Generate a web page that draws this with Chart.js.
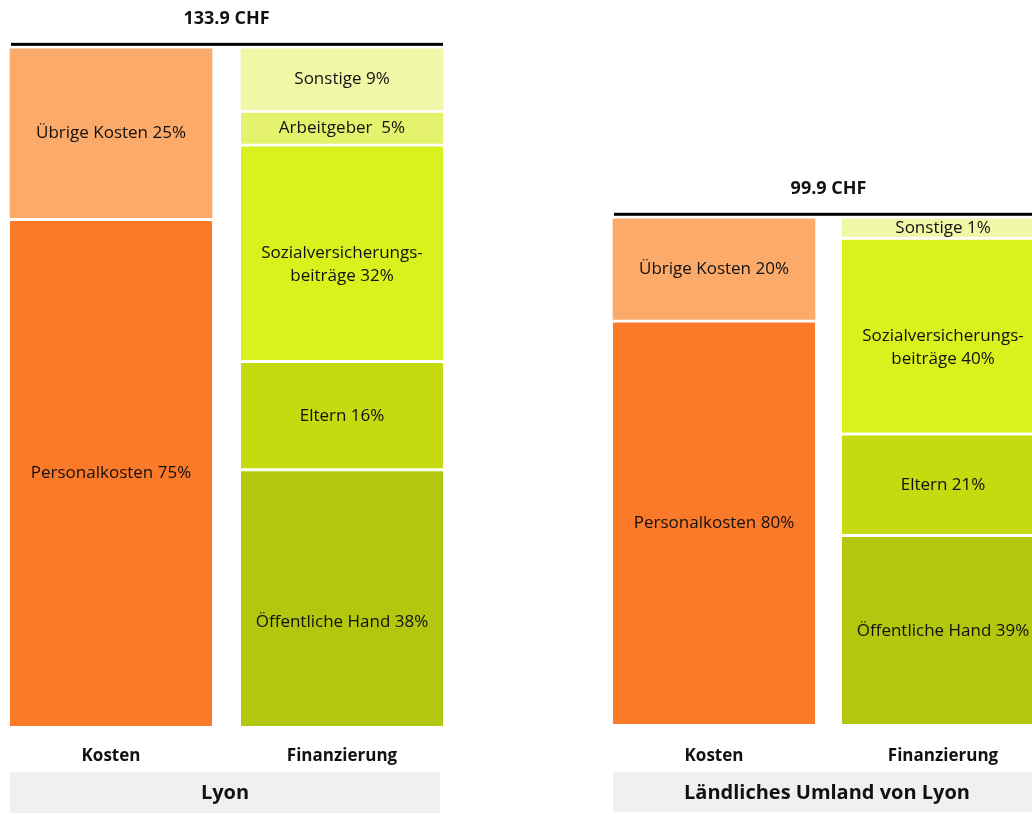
<!DOCTYPE html>
<html>
<head>
<meta charset="utf-8">
<script src="https://cdn.jsdelivr.net/npm/chart.js@4.4.1/dist/chart.umd.min.js"></script>
<style>
html, body { margin: 0; padding: 0; background: #fff; overflow: hidden; width: 1032px; height: 814px; position: relative; }
canvas { position: absolute; }
#lyon { left: -10px; top: 0; }
#land { left: 590px; top: -2px; }
</style>
</head>
<body>
<canvas id="lyon" width="480" height="814"></canvas>
<canvas id="land" width="480" height="814"></canvas>
<script>
const columns = ['Kosten', 'Finanzierung'];
const regions = ['Lyon', 'Ländliches Umland von Lyon'];
const totals = ['133.9 CHF', '99.9 CHF'];

// Kosten, von unten nach oben (Werte in CHF)
const kostenNames = ['Personalkosten', 'Übrige Kosten'];
const lyonKostenPct = [75, 25];
const lyonKostenChf = [100.4, 33.5];
const landKostenPct = [80, 20];
const landKostenChf = [79.9, 20.0];

// Finanzierung, von unten nach oben (Werte in CHF)
// leere Zeilen wie im Original-Label
const lyonFinNames = ['\n\nÖffentliche Hand', 'Eltern', '\nSozialversicherungs-\nbeiträge', 'Arbeitgeber ', 'Sonstige'];
const lyonFinPct = [38, 16, 32, 5, 9];
const lyonFinChf = [50.9, 21.4, 42.8, 6.7, 12.1];
const landFinNames = ['Öffentliche Hand', 'Eltern', '\nSozialversicherungs-\nbeiträge', 'Sonstige'];
const landFinPct = [39, 21, 40, 1];
const landFinChf = [37.5, 20.1, 38.7, 3.6];

const kostenColors = ['#FB7A29', '#FBAA6A'];
const finColors = {
    'Öffentliche Hand': '#B3C70F',
    'Eltern': '#C5DA0F',
    'Sozialversicherungs-beiträge': '#D9F21D',
    'Arbeitgeber': '#E4F26E',
    'Sonstige': '#F0F8A8'
};

const FONT = '"Open Sans", "DejaVu Sans", sans-serif';

const decor = {
    id: 'decor',
    afterDatasetsDraw(chart, args, opts) {
        const ctx = chart.ctx;
        const sets = chart.data.datasets;
        ctx.save();
        ctx.textAlign = 'center';
        ctx.textBaseline = 'middle';
        ctx.fillStyle = '#111';
        ctx.font = '17px ' + FONT;
        sets.forEach((ds, i) => {
            chart.getDatasetMeta(i).data.forEach((bar, j) => {
                if (ds.data[j] == null) return;
                const top = bar.y + (ds.isTop ? 0 : 3);
                const mid = (top + bar.base) / 2;
                const lines = ds.text;
                const start = mid - (lines.length - 1) * 23 / 2;
                lines.forEach((line, k) => ctx.fillText(line, bar.x, start + k * 23));
            });
        });

        // Summe oben + schwarze Linie
        const first = chart.getDatasetMeta(0).data[0];
        const last = chart.getDatasetMeta(sets.length - 1).data[1];
        const left = first.x - first.width / 2;
        const right = last.x + last.width / 2;
        const topPx = chart.scales.y.getPixelForValue(opts.sum);
        ctx.fillStyle = '#000';
        ctx.fillRect(left + 1, topPx - 6, right - left - 1, 3);
        ctx.font = 'bold 18px ' + FONT;
        ctx.fillStyle = '#111';
        ctx.fillText(opts.total, (left + right) / 2, topPx - 30);

        // graues Band mit Regionsname
        const bandTop = chart.chartArea.bottom + opts.bandGap;
        ctx.fillStyle = '#F0F0F0';
        ctx.fillRect(left, bandTop, right - left - 3, 41);
        ctx.fillStyle = '#111';
        ctx.font = 'bold 20px ' + FONT;
        ctx.fillText(opts.region, (left + right - 3) / 2, bandTop + 21);
        ctx.restore();
    }
};

function buildSets(kPct, kChf, fNames, fPct, fChf) {
    const sets = [];
    kChf.forEach((v, i) => sets.push({
        data: [v, null],
        backgroundColor: kostenColors[i],
        text: [kostenNames[i] + ' ' + kPct[i] + '%'],
        isTop: i === kChf.length - 1
    }));
    fChf.forEach((v, i) => {
        const lines = fNames[i].split('\n');
        lines[lines.length - 1] += ' ' + fPct[i] + '%';
        const key = fNames[i].replace(/\n/g, '').trim();
        sets.push({
            data: [null, v],
            backgroundColor: finColors[key],
            text: lines,
            isTop: i === fChf.length - 1
        });
    });
    sets.forEach(ds => {
        ds.borderColor = '#fff';
        ds.borderSkipped = false;
        ds.borderWidth = ds.isTop ? 0 : { top: 3, left: 0, right: 0, bottom: 0 };
        ds.barThickness = 202;
        ds.stack = 's';
    });
    return sets;
}

function makeChart(id, sets, total, region, sum, padLeft, shift) {
    return new Chart(document.getElementById(id).getContext('2d'), {
        type: 'bar',
        data: { labels: columns, datasets: sets },
        plugins: [decor],
        options: {
            responsive: false,
            animation: false,
            layout: { padding: { left: padLeft, right: 12.5, top: 18, bottom: 32 } },
            plugins: {
                legend: { display: false },
                tooltip: { enabled: false },
                decor: { total: total, region: region, sum: sum, bandGap: 46 + shift }
            },
            scales: {
                x: {
                    stacked: true,
                    grid: { display: false },
                    border: { display: false },
                    ticks: { color: '#111', padding: 12 + shift, font: { family: FONT, size: 17, weight: 'bold' } },
                    afterFit: s => { s.height = 56; }
                },
                y: { stacked: true, display: false, min: 0, max: 140 }
            }
        }
    });
}

const sumOf = a => a.reduce((s, v) => s + v, 0);

const chartLyon = makeChart('lyon',
    buildSets(lyonKostenPct, lyonKostenChf, lyonFinNames, lyonFinPct, lyonFinChf),
    totals[0], regions[0], sumOf(lyonKostenChf), 5.5, 0);

const chartLand = makeChart('land',
    buildSets(landKostenPct, landKostenChf, landFinNames, landFinPct, landFinChf),
    totals[1], regions[1], sumOf(landKostenChf), 9.5, 2);
</script>
</body>
</html>
